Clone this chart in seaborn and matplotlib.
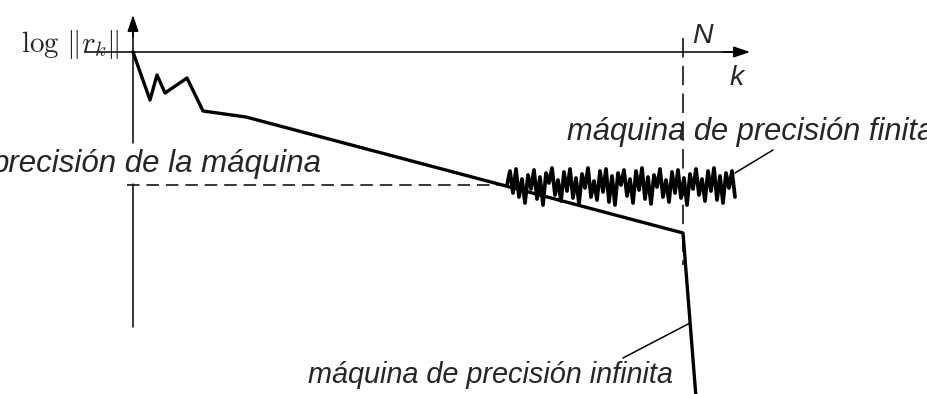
import numpy as np
import pandas as pd
import matplotlib
matplotlib.use("Agg")
import matplotlib.pyplot as plt
import seaborn as sns

# ---- data (schematic units: k along x, log||r_k|| along y, origin at axes crossing) ----
k_exact = [0, 17, 24, 32, 54, 70, 113, 550, 564]
logr_exact = [0, -48, -23, -41, -26, -59, -65, -181, -358]

k_noise_start = 374
k_noise_step = 3
noise_offsets = [0, 14, -8, 16, -12, 6, -18, 10, -4, 15,
                 -14, 8, -20, 12, 2, 17, -10, 5, -16, 13,
                 -6, 16, -13, 7, -19, 11, -3, 17, -12, 4,
                 -15, 14, -7, 16, -17, 9, -20, 12, 0, 15,
                 -11, 6, -18, 14, -5, 17, -14, 8, -19, 10,
                 -2, 16, -12, 5, -17, 13, -8, 15, -13, 7,
                 -20, 11, -4, 16, -10, 6, -16, 14, -6, 17,
                 -15, 9, -18, 12, -3, 14, -12]
machine_eps_level = -133
N_iter = 550

label_y = r"$\log\,\|r_k\|$"
label_x = "k"
label_N = "N"
label_eps = "precisión de la máquina"
label_finite = "máquina de precisión finita"
label_infinite = "máquina de precisión infinita"

# ---- figure ----
sns.set_theme(style="white")
plt.rcParams["font.family"] = ["Liberation Sans", "DejaVu Sans"]
plt.rcParams["mathtext.fontset"] = "cm"
plt.rcParams["lines.scale_dashes"] = False

fig = plt.figure(figsize=(9.28, 3.94), dpi=100)
ax = fig.add_axes([0, 0, 1, 1])
ax.set_xlim(-133, 795)
ax.set_ylim(-342, 52)
ax.axis("off")

df_exact = pd.DataFrame({"k": k_exact, "logr": logr_exact})
k_noise = k_noise_start + k_noise_step * np.arange(len(noise_offsets))
df_noise = pd.DataFrame({"k": k_noise, "logr": machine_eps_level + np.array(noise_offsets)})

black = "black"
# axes
ax.plot([-49, 600], [0, 0], color=black, lw=1.1, solid_capstyle="butt")
ax.annotate("", xy=(617, 0), xytext=(590, 0),
            arrowprops=dict(arrowstyle="-|>,head_length=0.5,head_width=0.17",
                            color=black, lw=1.1, shrinkA=0, shrinkB=0, mutation_scale=20))
ax.plot([0, 0], [-275, -132], color=black, lw=1.1)
ax.plot([0, 0], [-91, 20], color=black, lw=1.1)
ax.annotate("", xy=(0, 37), xytext=(0, 15),
            arrowprops=dict(arrowstyle="-|>,head_length=0.5,head_width=0.17",
                            color=black, lw=1.1, shrinkA=0, shrinkB=0, mutation_scale=20))

# dashed guides
ax.plot([-6, 377], [machine_eps_level, machine_eps_level], color=black, lw=1.1,
        linestyle=(0, (9, 5)))
ax.plot([N_iter, N_iter], [14, -213], color=black, lw=1.1, linestyle=(0, (14, 6)))

# curves
sns.lineplot(data=df_exact, x="k", y="logr", ax=ax, color=black, lw=2.4,
             sort=False, estimator=None, legend=False)
sns.lineplot(data=df_noise, x="k", y="logr", ax=ax, color=black, lw=2.7,
             sort=False, estimator=None, legend=False)

# leader lines
ax.plot([557, 490], [-271, -306], color=black, lw=1.1)
ax.plot([602, 640], [-121, -98], color=black, lw=1.1)

# texts
ax.text(-13, 0, label_y, ha="right", va="baseline", fontsize=21)
ax.text(559, 9, label_N, ha="left", va="baseline", fontsize=20.5, style="italic")
ax.text(597, -33, label_x, ha="left", va="baseline", fontsize=20.5, style="italic")
ax.text(434, -88, label_finite, ha="left", va="baseline", fontsize=22.2, style="italic")
ax.text(189, -120, label_eps, ha="right", va="baseline", fontsize=22.5, style="italic")
ax.text(175, -331, label_infinite, ha="left", va="baseline", fontsize=20.8, style="italic")

fig.savefig("out.png", dpi=100)
